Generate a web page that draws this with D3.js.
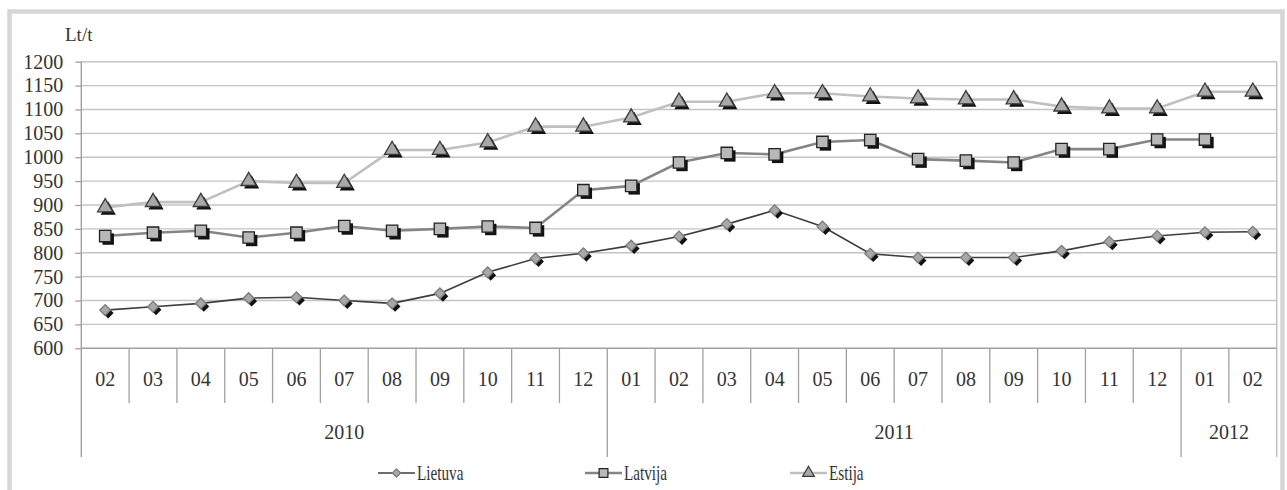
<!DOCTYPE html>
<html><head><meta charset="utf-8">
<script src="https://cdn.jsdelivr.net/npm/d3@7"></script>
<style>
html,body{margin:0;padding:0;background:#fff;}
.ser{font-family:'Liberation Serif', 'DejaVu Serif', serif;}
</style></head>
<body>
<svg id="c" width="1287" height="490"></svg>
<script>
const months = ["02","03","04","05","06","07","08","09","10","11","12","01","02","03","04","05","06","07","08","09","10","11","12","01","02"];
const yearLabels = ["2010","2011","2012"];
const yearSpans = [11,12,2];
const yTicks = [600,650,700,750,800,850,900,950,1000,1050,1100,1150,1200];
const seriesNames = ["Lietuva","Latvija","Estija"];
const lietuva = [680,687,694,705,707,700,694,715,759,788,799,815,834,860,889,855,798,790,790,790,804,823,835,843,844];
const latvija = [835,842,846,832,842,856,846,850,855,852,931,940,989,1009,1006,1032,1036,996,993,989,1017,1017,1037,1037,null];
const estija = [895,906,906,950,946,946,1015,1015,1031,1064,1064,1083,1116,1116,1134,1134,1127,1123,1121,1121,1106,1102,1102,1137,1137];

const svg = d3.select("#c");
const L = 81.3, R = 1276.7, T = 61.7, B = 348.3;
const idx = d3.range(months.length);
const x = d3.scaleBand().domain(idx).range([L,R]).padding(0);
const y = d3.scaleLinear().domain([600,1200]).range([B,T]);
const textCol = "#333";

svg.append("rect").attr("x",9.5).attr("y",11.5).attr("width",1273).attr("height",490)
  .attr("fill","#fff").attr("stroke","#d6d6d6").attr("stroke-width",4.5);

svg.append("g").selectAll("line").data(yTicks.filter(d=>d>600)).join("line")
  .attr("x1",L).attr("x2",R).attr("y1",d=>y(d)).attr("y2",d=>y(d))
  .attr("stroke","#c4c4c4").attr("stroke-width",1.4);

const yAxis = d3.axisLeft(y).tickValues(yTicks).tickSize(6).tickPadding(12).tickFormat(d3.format("d"));
const gy = svg.append("g").attr("transform",`translate(${L},0)`).call(yAxis);
gy.attr("font-family",null).attr("font-size",null);
gy.select(".domain").remove();
gy.selectAll(".tick line").attr("stroke","#a0a0a0").attr("stroke-width",1.3);
gy.selectAll(".tick text").attr("class","ser").attr("font-size",20).attr("fill",textCol);

svg.append("line").attr("x1",L).attr("x2",L).attr("y1",T).attr("y2",457).attr("stroke","#a0a0a0").attr("stroke-width",1.4);
svg.append("line").attr("x1",R).attr("x2",R).attr("y1",T).attr("y2",457).attr("stroke","#bdbdbd").attr("stroke-width",1.4);
svg.append("line").attr("x1",L).attr("x2",R).attr("y1",B).attr("y2",B).attr("stroke","#a0a0a0").attr("stroke-width",1.4);

svg.append("text").attr("class","ser").attr("x",65).attr("y",41).attr("font-size",19).attr("fill",textCol).text("Lt/t");

const bw = x.bandwidth();
const yearStarts = [];
let acc = 0; yearSpans.forEach(s=>{yearStarts.push(acc); acc+=s;});
svg.append("g").selectAll("line").data(idx.slice(1).filter(i=>!yearStarts.includes(i))).join("line")
  .attr("x1",i=>x(i)).attr("x2",i=>x(i)).attr("y1",B).attr("y2",403)
  .attr("stroke","#a0a0a0").attr("stroke-width",1.3);
svg.append("g").selectAll("line").data(yearStarts.slice(1)).join("line")
  .attr("x1",i=>x(i)).attr("x2",i=>x(i)).attr("y1",B).attr("y2",457)
  .attr("stroke","#a0a0a0").attr("stroke-width",1.3);
svg.append("g").selectAll("text").data(idx).join("text").attr("class","ser")
  .attr("x",i=>x(i)+bw/2).attr("y",386).attr("text-anchor","middle")
  .attr("font-size",20).attr("fill",textCol).text(i=>months[i]);
svg.append("g").selectAll("text").data(yearLabels).join("text").attr("class","ser")
  .attr("x",(d,k)=>(x(yearStarts[k]) + x(yearStarts[k]+yearSpans[k]-1)+bw)/2)
  .attr("y",439).attr("text-anchor","middle").attr("font-size",20).attr("fill",textCol).text(d=>d);

const series = [
  {name:"Estija", vals:estija, line:"#c0c0c0", lw:2.6, sym:d3.symbolTriangle, size:100, rot:0, fill:"#a8a8a8", stroke:"#3a3a3a"},
  {name:"Latvija", vals:latvija, line:"#858585", lw:2.6, sym:d3.symbolSquare, size:130, rot:0, fill:"#b8b8b8", stroke:"#222"},
  {name:"Lietuva", vals:lietuva, line:"#3c3c3c", lw:1.6, sym:d3.symbolSquare, size:58, rot:45, fill:"#a8a8a8", stroke:"#7a7a7a"}
];
const cx = i=>x(i)+bw/2;
series.forEach(s=>{
  const pts = s.vals.map((v,i)=>({i,v})).filter(p=>p.v!=null);
  svg.append("path").datum(pts).attr("fill","none").attr("stroke",s.line).attr("stroke-width",s.lw)
    .attr("d",d3.line().x(p=>cx(p.i)).y(p=>y(p.v)));
});
series.forEach(s=>{
  const pts = s.vals.map((v,i)=>({i,v})).filter(p=>p.v!=null);
  const g = svg.append("g");
  const sym = d3.symbol().type(s.sym).size(s.size);
  g.selectAll(".sh").data(pts).join("path").attr("class","sh")
    .attr("transform",p=>`translate(${cx(p.i)+3},${y(p.v)+3}) rotate(${s.rot})`).attr("d",sym()).attr("fill","#111");
  g.selectAll(".mk").data(pts).join("path").attr("class","mk")
    .attr("transform",p=>`translate(${cx(p.i)},${y(p.v)}) rotate(${s.rot})`).attr("d",sym())
    .attr("fill",s.fill).attr("stroke",s.stroke).attr("stroke-width",1.3);
});

const legX = [378,585,790];
const legendOrder = ["Lietuva","Latvija","Estija"];
legendOrder.forEach((n,k)=>{
  const s = series.find(q=>q.name===n);
  const g = svg.append("g").attr("transform",`translate(${legX[k]},473)`);
  g.append("line").attr("x1",0).attr("x2",37).attr("y1",0).attr("y2",0).attr("stroke",s.line).attr("stroke-width",s.lw);
  g.append("path").attr("transform",`translate(18.5,0) rotate(${s.rot})`).attr("d",d3.symbol().type(s.sym).size(s.size*0.6)())
    .attr("fill",s.fill).attr("stroke",s.stroke).attr("stroke-width",1.2);
  g.append("text").attr("class","ser").attr("transform","translate(39,7) scale(0.76,1)")
    .attr("font-size",20).attr("fill",textCol).text(n);
});
</script>
</body></html>
